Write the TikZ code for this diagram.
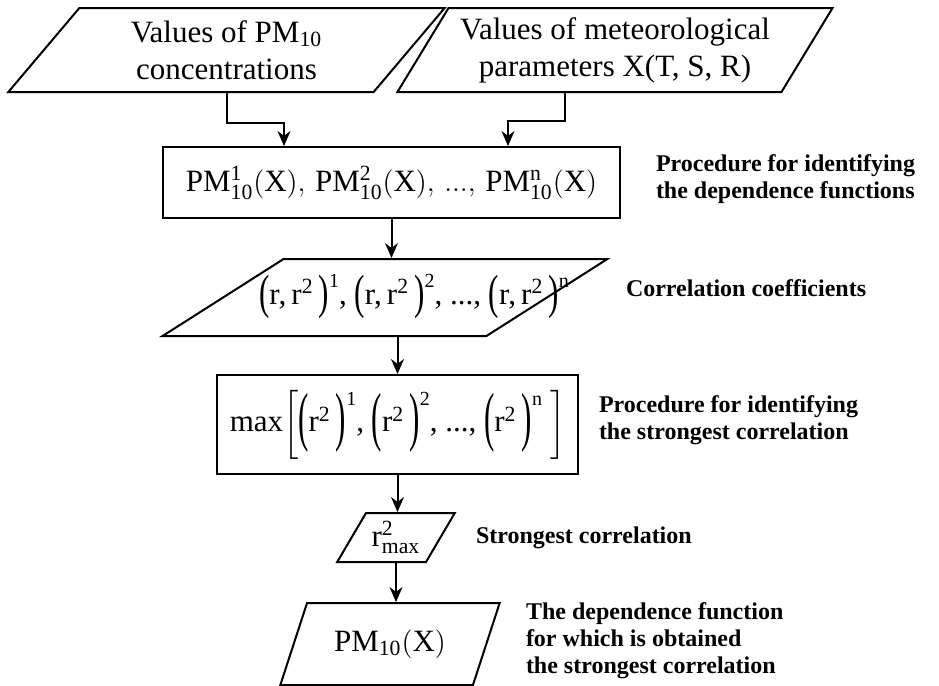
\documentclass[tikz,border=0pt]{standalone}
\usepackage{amsmath}
\usepackage{fontspec}
\setmainfont{Liberation Serif}
\usepackage{tikz}
\usetikzlibrary{shapes.geometric}
\usetikzlibrary{arrows.meta}
\usetikzlibrary{calc}
\newcommand{\mytikzboxfont}{\fontsize{15.5}{18.5}\selectfont}
\newcommand{\mytikzlabelfont}{\fontsize{12}{13.5}\selectfont\bfseries}
\newcommand{\mysupfont}{\fontsize{10}{10}\selectfont}
% stretched parentheses with an exponent
\newcommand{\coefpar}[2]{\raisebox{-2pt}{\scalebox{1}[1.55]{(}}#1\raisebox{-2pt}{\scalebox{1}[1.55]{)}}\raisebox{8.5pt}{\mysupfont #2}}
\newcommand{\maxpar}[2]{\raisebox{-3.5pt}{\scalebox{1}[2.1]{(}}#1\raisebox{-3.5pt}{\scalebox{1}[2.1]{)}}\raisebox{13pt}{\mysupfont #2}}
\tikzstyle{mytikzflowoptions}=[
    x=0.5pt,y=-0.5pt,
    every path/.append style={>={Stealth[length=7.5pt,width=6.5pt,inset=2.5pt]},line width=1pt},
    every node/.append style={inner sep=0pt,font=\mytikzboxfont}
]
\tikzstyle{datanode}=[
    draw,
    trapezium,
    trapezium stretches=true,
    align=center
]
\tikzstyle{procnode}=[
    draw,
    rectangle
]
\tikzstyle{notenode}=[
    draw=none,
    anchor=west,
    align=left,
    font=\mytikzlabelfont
]

\begin{document}
\begin{tikzpicture}[mytikzflowoptions]
    \useasboundingbox (0,0) rectangle (939,686);

    % nodes
    \node[datanode,trapezium left angle=52,trapezium right angle=128,minimum width=218.5pt,minimum height=42pt] (inpm) at (226.5,50) {Values of PM$_{\mathrm{10}}$\\concentrations};
    \node[datanode,trapezium left angle=54,trapezium right angle=126,minimum width=218pt,minimum height=42pt] (inmet) at (615,50) {Values of meteorological\\parameters X(T, S, R)};
    \node[procnode,minimum width=228.5pt,minimum height=35.5pt] (funcs) at (391.5,182.5) {$\mathrm{PM}^{\mathrm{1}}_{\mathrm{10}}\mathrm{(X)},\,\mathrm{PM}^{\mathrm{2}}_{\mathrm{10}}\mathrm{(X)},\,\mathrm{...},\,\mathrm{PM}^{\mathrm{n}}_{\mathrm{10}}\mathrm{(X)}$};
    \node[datanode,trapezium left angle=51,trapezium right angle=129,minimum width=223pt,minimum height=38.5pt] (coeffs) at (385,297.5) {\phantom{M}};
    \node (coeffstext) at (414,296) {\coefpar{r,\,r\textsuperscript{2}\,}{1}, \coefpar{r,\,r\textsuperscript{2}\,}{2}, ..., \coefpar{r,\,r\textsuperscript{2}\,}{n}};
    \node[procnode,minimum width=180.5pt,minimum height=49.5pt] (maxcorr) at (397.5,424.5) {max$\left[\rule[-11pt]{0pt}{28pt}\mbox{\maxpar{r\textsuperscript{2}\,}{1}, \maxpar{r\textsuperscript{2}\,}{2}, ..., \maxpar{r\textsuperscript{2}\,}{n}}\;\right]$};
    \node[datanode,trapezium left angle=54,trapezium right angle=126,minimum width=59pt,minimum height=24.5pt] (rmax) at (396,537.5) {$\mathrm{r}^{\mathrm{2}}_{\mathrm{max}}$};
    \node[datanode,trapezium left angle=58,trapezium right angle=122,minimum width=110pt,minimum height=41pt] (result) at (390,644) {$\mathrm{PM}_{\mathrm{10}}\mathrm{(X)}$};

    \node[notenode] (lfuncs) at (655,179) {Procedure for identifying\\the dependence functions};
    \node[notenode] (lcoeffs) at (625,288) {Correlation coefficients};
    \node[notenode] (lmax) at (598,420) {Procedure for identifying\\the strongest correlation};
    \node[notenode] (lrmax) at (475,538) {Strongest correlation};
    \node[notenode] (lresult) at (525,641) {The dependence function\\for which is obtained\\the strongest correlation};

    % edges
    \draw[->] (inpm.south) -- ++(0,30) -| ($(funcs.north west)+(122,0)$);
    \draw[->] ($(inmet.south)+(-50,0)$) -- ++(0,28) -| ($(funcs.north west)+(346,0)$);
    \draw[->] (funcs.south) -- (funcs.south |- coeffs.north);
    \draw[->] (maxcorr.north |- coeffs.south) -- (maxcorr.north);
    \draw[->] (maxcorr.south) -- (maxcorr.south |- rmax.north);
    \draw[->] (rmax.south) -- (rmax.south |- result.north);
\end{tikzpicture}
\end{document}
